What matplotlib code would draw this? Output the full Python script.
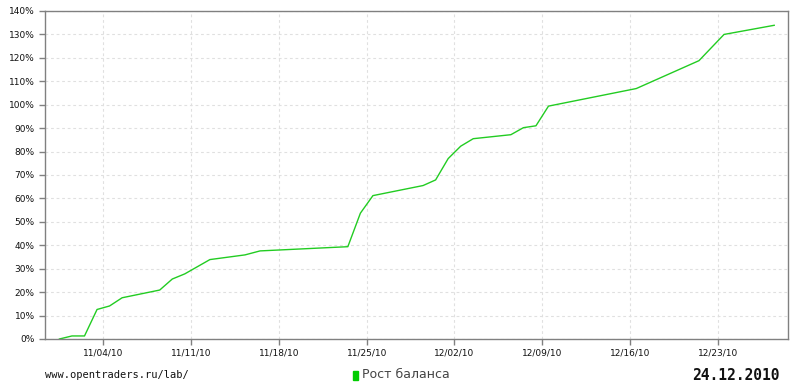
import datetime as dt
import matplotlib
matplotlib.use('Agg')
import matplotlib.pyplot as plt
import matplotlib.dates as mdates
import matplotlib.ticker as mticker

# days after 11/04/2010, balance growth in %
day_offsets = [-3.5, -2.5, -1.5, -0.5, 0.5, 1.5, 4.5, 5.5, 6.5, 8.5, 11.3, 12.5,
               19.5, 20.5, 21.5, 25.5, 26.5, 27.5, 28.5, 29.5, 32.5, 33.5, 34.5,
               35.5, 42.5, 47.5, 49.5, 53.5]
growth = [0.0, 1.3, 1.3, 12.6, 14.1, 17.6, 20.9, 25.6, 27.8, 33.9, 35.9, 37.6,
          39.4, 53.7, 61.2, 65.5, 67.9, 77.0, 82.3, 85.5, 87.2, 90.2, 91.0,
          99.4, 106.9, 118.8, 130.0, 133.9]
series_name = 'Рост баланса'
site = 'www.opentraders.ru/lab/'
stamp = '24.12.2010'

base = dt.datetime(2010, 11, 4)
dates = [base + dt.timedelta(days=d) for d in day_offsets]

fig = plt.figure(figsize=(8, 3.84), dpi=100)
ax = fig.add_axes([45/800, 45/384, 743/800, 328/384])

ax.plot(dates, growth, color='#22cc22', linewidth=1.0)

ax.set_ylim(0, 140)
ax.set_xlim(base + dt.timedelta(days=-4.65), base + dt.timedelta(days=54.6))
ax.yaxis.set_major_locator(mticker.MultipleLocator(10))
ax.yaxis.set_major_formatter(mticker.FuncFormatter(lambda v, p: '%d%%' % v))
ax.xaxis.set_major_locator(mdates.WeekdayLocator(byweekday=mdates.TH))
ax.xaxis.set_major_formatter(mdates.DateFormatter('%m/%d/%y'))

ax.grid(True, color='#e0e0e0', linestyle=(0, (2.5, 2.5)), linewidth=0.8)
ax.set_axisbelow(True)
for s in ax.spines.values():
    s.set_color('#808080')
    s.set_linewidth(1.0)
ax.tick_params(axis='both', colors='#808080', length=4, width=1,
               labelsize=6.5, labelcolor='#111111')
ax.tick_params(axis='x', pad=3)

fig.text(45/800, 1 - 375/384, site, family='DejaVu Sans Mono', fontsize=7.5,
         color='#111111', va='center', ha='left')
fig.patches.append(plt.Rectangle((353/800, 1 - 380/384), 5/800, 9/384,
                                 transform=fig.transFigure, color='#00cc00'))
fig.text(362/800, 1 - 375/384, series_name, fontsize=9, color='#444444',
         va='center', ha='left')
fig.text(780/800, 1 - 375/384, stamp, family='DejaVu Sans Mono',
         fontsize=10.5, fontweight='bold', color='#111111', va='center', ha='right')

fig.savefig('out.png', dpi=100)
